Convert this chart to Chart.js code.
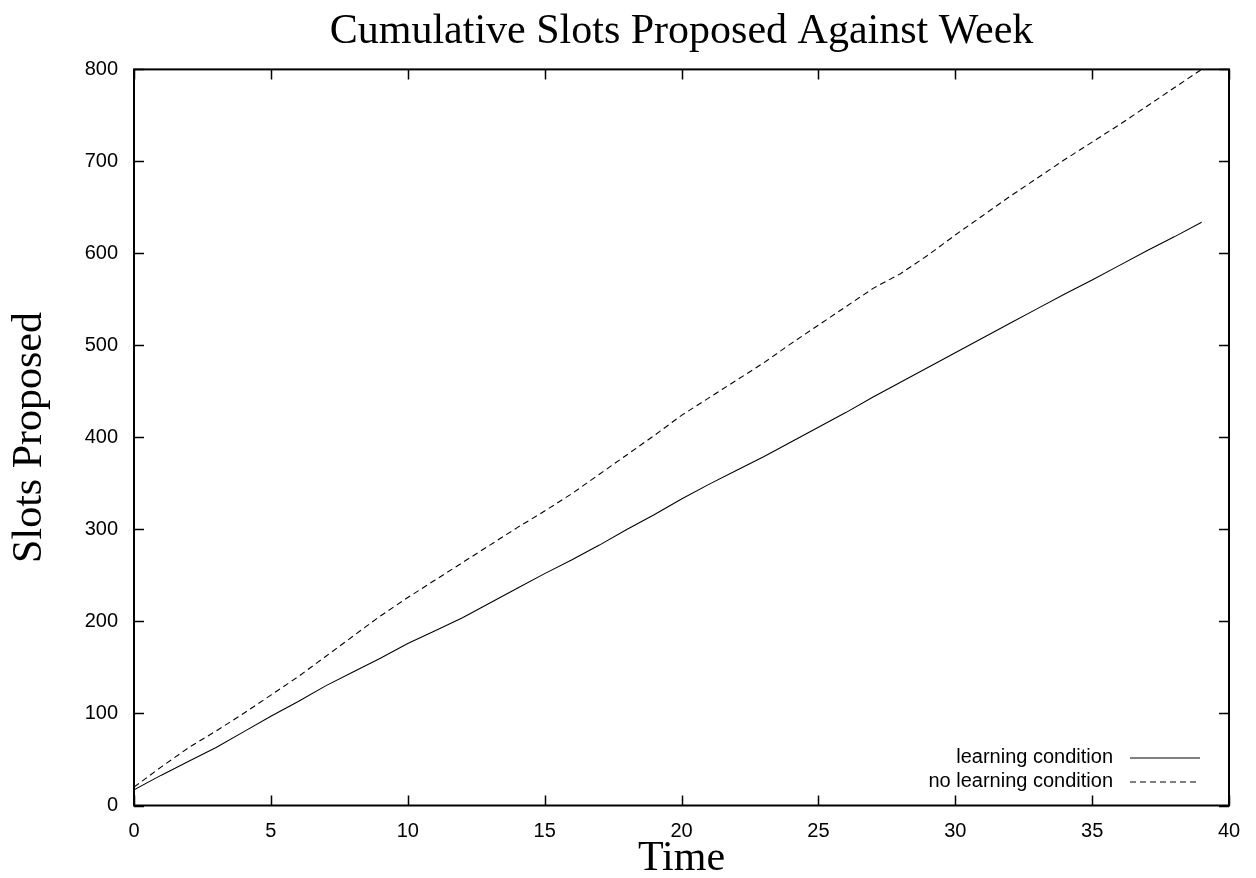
<!DOCTYPE html>
<html>
<head>
<meta charset="utf-8">
<title>Cumulative Slots Proposed Against Week</title>
<script src="https://cdn.jsdelivr.net/npm/chart.js@4.4.0/dist/chart.umd.min.js"></script>
<style>
    html, body { margin: 0; padding: 0; background: #ffffff; }
    #wrap { width: 1256px; height: 878px; }
</style>
</head>
<body>
<div id="wrap"><canvas id="chart" width="1256" height="878"></canvas></div>
<script>
// week numbers 0..39
const weeks = [0, 1, 2, 3, 4, 5, 6, 7, 8, 9, 10, 11, 12, 13, 14, 15, 16, 17, 18, 19,
    20, 21, 22, 23, 24, 25, 26, 27, 28, 29, 30, 31, 32, 33, 34, 35, 36, 37, 38, 39];

// cumulative slots
const learning = [17, 33, 48, 63, 80, 97, 113, 130, 145, 160, 176, 190, 204, 220, 236, 252, 267, 283, 300, 316,
    333, 349, 364, 379, 395, 411, 427, 444, 460, 476, 492, 508, 524, 540, 556, 571, 587, 603, 618, 634];
const noLearning = [20, 42, 63, 81, 100, 120, 140, 162, 184, 206, 226, 245, 264, 283, 302, 320, 339, 360, 381, 402,
    424, 443, 462, 481, 502, 522, 542, 562, 578, 598, 620, 641, 662, 682, 702, 721, 740, 760, 780, 800];

const seriesNames = ["learning condition", "no learning condition"];

const SERIF = "'Liberation Serif', 'Times New Roman', serif";
const SANS = "'Liberation Sans', Arial, Helvetica, sans-serif";

function toPoints(ys) {
    return weeks.map((w, i) => ({x: w, y: ys[i]}));
}

// gnuplot style frame: full box, ticks pointing inward on all four sides, legend bottom right
const framePlugin = {
    id: "frame",
    afterDatasetsDraw(c) {
        const ctx = c.ctx;
        const a = c.chartArea;
        const xs = c.scales.x;
        const ys = c.scales.y;
        const tl = 10;
        ctx.save();
        ctx.strokeStyle = "#000";
        ctx.lineWidth = 1.5;
        ctx.beginPath();
        xs.ticks.forEach(t => {
            const px = Math.round(xs.getPixelForValue(t.value)) + 0.5;
            ctx.moveTo(px, a.bottom); ctx.lineTo(px, a.bottom - tl);
            ctx.moveTo(px, a.top); ctx.lineTo(px, a.top + tl);
        });
        ys.ticks.forEach(t => {
            const py = Math.round(ys.getPixelForValue(t.value)) + 0.5;
            ctx.moveTo(a.left, py); ctx.lineTo(a.left + tl, py);
            ctx.moveTo(a.right, py); ctx.lineTo(a.right - tl, py);
        });
        ctx.stroke();
        ctx.lineWidth = 2;
        ctx.strokeRect(a.left, a.top, a.right - a.left, a.bottom - a.top);

        // legend
        ctx.font = "20px " + SANS;
        ctx.fillStyle = "#000";
        ctx.textAlign = "right";
        ctx.textBaseline = "middle";
        const tx = a.right - 116;
        const rowY = [a.bottom - 48, a.bottom - 24];
        c.data.datasets.forEach((ds, i) => {
            ctx.fillText(ds.label, tx, rowY[i]);
            ctx.lineWidth = 1;
            ctx.setLineDash(ds.borderDash || []);
            ctx.beginPath();
            ctx.moveTo(tx + 17, rowY[i] + 0.5);
            ctx.lineTo(a.right - 29, rowY[i] + 0.5);
            ctx.stroke();
        });
        ctx.setLineDash([]);
        ctx.restore();
    }
};

window.addEventListener("load", function () {
    const chartCanvas = document.getElementById("chart");
    new Chart(chartCanvas, {
        type: "line",
        data: {
            datasets: [
                {
                    label: seriesNames[0],
                    data: toPoints(learning),
                    borderColor: "#000",
                    borderWidth: 1.1,
                    pointRadius: 0,
                    tension: 0,
                    fill: false,
                },
                {
                    label: seriesNames[1],
                    data: toPoints(noLearning),
                    borderColor: "#000",
                    borderWidth: 1.1,
                    borderDash: [6, 4],
                    pointRadius: 0,
                    tension: 0,
                    fill: false,
                },
            ],
        },
        options: {
            responsive: false,
            animation: false,
            layout: {
                padding: {left: 0, right: 27, top: 0, bottom: 0}
            },
            plugins: {
                legend: {display: false},
                tooltip: {enabled: false},
                title: {
                    display: true,
                    fullSize: false,
                    text: "Cumulative Slots Proposed Against Week",
                    color: "#000",
                    font: {family: SERIF, size: 42, weight: "normal", lineHeight: 1.2},
                    padding: {top: 7, bottom: 12},
                },
            },
            scales: {
                x: {
                    type: "linear",
                    min: 0,
                    max: 40,
                    grid: {display: false, drawTicks: false},
                    border: {display: false},
                    afterFit: function (scale) { scale.height = 72.5; },
                    ticks: {
                        stepSize: 5,
                        color: "#000",
                        padding: 14,
                        maxRotation: 0,
                        font: {family: SANS, size: 20},
                    },
                    title: {
                        display: true,
                        text: "Time",
                        color: "#000",
                        font: {family: SERIF, size: 42},
                        padding: {top: 0, bottom: -6},
                    },
                },
                y: {
                    min: 0,
                    max: 800,
                    grid: {display: false, drawTicks: false},
                    border: {display: false},
                    afterFit: function (scale) { scale.width = 134; },
                    ticks: {
                        stepSize: 100,
                        color: "#000",
                        padding: 16,
                        font: {family: SANS, size: 20},
                    },
                    title: {
                        display: true,
                        text: "Slots Proposed",
                        color: "#000",
                        font: {family: SERIF, size: 42},
                        padding: {top: 5, bottom: 0},
                    },
                },
            },
        },
        plugins: [framePlugin],
    });
});
</script>
</body>
</html>
